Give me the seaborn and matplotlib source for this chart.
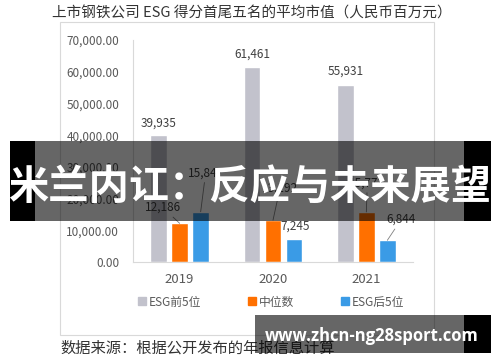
import matplotlib
matplotlib.use("Agg")
import matplotlib.pyplot as plt
from matplotlib.patches import Rectangle
import pandas as pd
import seaborn as sns

# data
years = ["2019", "2020", "2021"]
series_names = ["ESG前5位", "中位数", "ESG后5位"]
top5 = [39935, 61461, 55931]
median = [12186, 13192, 15773]
bottom5 = [15847, 7245, 6844]
y_ticks = [0, 10000, 20000, 30000, 40000, 50000, 60000, 70000]

title = "上市钢铁公司 ESG 得分首尾五名的平均市值（人民币百万元）"
source = "数据来源：根据公开发布的年报信息计算"
banner = "米兰内讧：反应与未来展望"
watermark = "www.zhcn-ng28sport.com"

colors = ["#C2C2CC", "#FF7000", "#3A9BE6"]

df = pd.DataFrame({
    "year": years * 3,
    "series": [s for s in series_names for _ in years],
    "value": top5 + median + bottom5,
})

sns.set_style("white")
plt.rcParams["font.family"] = ["Noto Sans CJK SC", "DejaVu Sans"]

W, H = 500, 362
fig = plt.figure(figsize=(W / 100, H / 100), dpi=100)


def fx(x):
    return x / W


def fy(y):
    return 1 - y / H


ax = fig.add_axes([fx(133), fy(262), 280 / W, 222 / H])
sns.barplot(data=df, x="year", y="value", hue="series", palette=colors,
            width=0.675, gap=0.2, ax=ax, legend=False, saturation=1)

ax.set_ylim(0, 70000)
ax.set_xlim(-0.5, 2.5)
ax.set_yticks(y_ticks)
ax.set_yticklabels([f"{v:,.2f}" for v in y_ticks])
ax.tick_params(axis="y", length=0, pad=10, labelsize=8.5, labelcolor="#595959")
ax.tick_params(axis="x", length=0, pad=8, labelsize=9.5, labelcolor="#595959")
ax.set_xlabel("")
ax.set_ylabel("")
for side in ["top", "right"]:
    ax.spines[side].set_visible(False)
for side in ["left", "bottom"]:
    ax.spines[side].set_color("#D9D9D9")
    ax.spines[side].set_linewidth(0.8)

# label offsets in pixels (dx, dy, leader line)
offsets = [
    [(0, 12, False), (0, 13, False), (0, 13, False)],
    [(-17, 16, True), (7, 32, True), (1, 29, True)],
    [(5, 39, True), (1, 13, False), (14, 21, True)],
]
for ci, cont in enumerate(ax.containers):
    for bi, bar in enumerate(cont):
        dx, dy, line = offsets[ci][bi]
        xc = bar.get_x() + bar.get_width() / 2
        h = bar.get_height()
        kw = {}
        if line:
            kw["arrowprops"] = dict(arrowstyle="-", color="#7F7F7F", lw=0.6,
                                    shrinkA=0, shrinkB=0)
        ax.annotate(f"{int(h):,}", xy=(xc, h), xytext=(dx, dy),
                    textcoords="offset pixels", ha="center", va="center",
                    fontsize=8.5, color="#404040", **kw)

# legend
handles = [Rectangle((0, 0), 1, 1, color=c) for c in colors]
fig.legend(handles, series_names, loc="center", bbox_to_anchor=(fx(271), fy(302)),
           ncol=3, frameon=False, fontsize=8.5, handlelength=0.65,
           handleheight=0.65, handletextpad=0.25, columnspacing=4.0,
           labelcolor="#595959")

# chart frame, title, source
fig.patches.append(Rectangle((fx(60), fy(335)), fx(434) - fx(60), fy(22) - fy(335),
                             transform=fig.transFigure, fill=False,
                             edgecolor="#D9D9D9", lw=0.8))
fig.text(fx(252), fy(14), title, ha="center", va="center", fontsize=10.5, color="#333333")
fig.text(fx(60), fy(348), source, ha="left", va="center", fontsize=11, color="#333333")

# overlay banner
for x0, x1, a in [(10, 35, 1.0), (35, 464, 0.6), (464, 491, 1.0)]:
    fig.patches.append(Rectangle((fx(x0), fy(221)), fx(x1) - fx(x0), fy(141) - fy(221),
                                 transform=fig.transFigure, color="black", alpha=a,
                                 lw=0, zorder=10))
fig.text(fx(250), fy(187), banner, ha="center", va="center", fontsize=29,
         fontweight="bold", color="white", zorder=11)

# watermark
for x0, x1, a in [(255, 464, 0.6), (464, 491, 1.0)]:
    fig.patches.append(Rectangle((fx(x0), fy(353)), fx(x1) - fx(x0), fy(315) - fy(353),
                                 transform=fig.transFigure, color="black", alpha=a,
                                 lw=0, zorder=10))
fig.text(fx(372), fy(336), watermark, ha="center", va="center", fontsize=12,
         fontweight="bold", color="white", family=["Open Sans", "DejaVu Sans"], zorder=11)

fig.savefig("out.png", dpi=100)
